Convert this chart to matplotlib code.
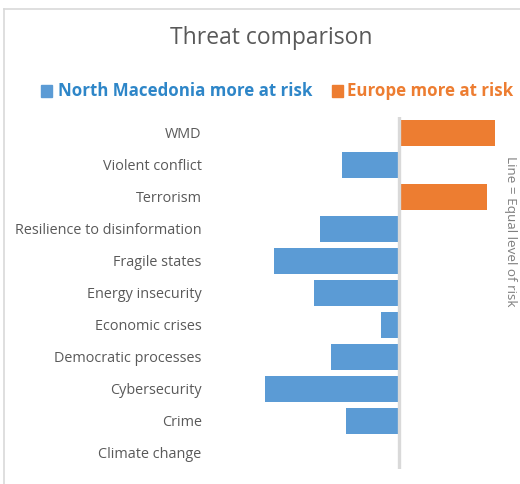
import matplotlib
matplotlib.use("Agg")
import matplotlib.pyplot as plt
from matplotlib.patches import Rectangle
from matplotlib.lines import Line2D

categories = ["WMD", "Violent conflict", "Terrorism", "Resilience to disinformation",
              "Fragile states", "Energy insecurity", "Economic crises",
              "Democratic processes", "Cybersecurity", "Crime", "Climate change"]
values = [0.96, -0.57, 0.88, -0.79, -1.25, -0.85, -0.18, -0.68, -1.34, -0.53, 0.01]

BLUE = "#5B9BD5"
ORANGE = "#ED7D31"
W, H = 520, 484

plt.rcParams['font.family'] = ['Open Sans', 'DejaVu Sans']
fig = plt.figure(figsize=(W/100, H/100), dpi=100)

# frame
fig.add_artist(Line2D([4/W, 4/W], [0, 1-9/H], color="#d9d9d9", lw=1.2, transform=fig.transFigure))
fig.add_artist(Line2D([4/W, 1], [1-9/H, 1-9/H], color="#d9d9d9", lw=1.2, transform=fig.transFigure))

ax_l, ax_r, ax_t, ax_b = 208, 500, 117, 469
ax = fig.add_axes([ax_l/W, 1-ax_b/H, (ax_r-ax_l)/W, (ax_b-ax_t)/H])
ax.set_xlim((ax_l-399)/100, (ax_r-399)/100)
ax.set_ylim(len(categories)-0.5, -0.5)

ys = list(range(len(categories)))
colors = [ORANGE if v > 0 else BLUE for v in values]
ax.barh(ys, values, height=0.8, color=colors, zorder=2)
ax.axvline(0, color="#d9d9d9", lw=2.4, zorder=3)

ax.set_yticks(ys)
ax.set_yticklabels(categories, fontsize=10.4, color="#595959")
ax.tick_params(axis='y', length=0, pad=4.5)
ax.set_xticks([])
for s in ax.spines.values():
    s.set_visible(False)

fig.text(271/W, 1-38/H, "Threat comparison", ha="center", va="center", fontsize=16.5, color="#595959")

# legend
fig.add_artist(Rectangle((41/W, 1-97/H), 11/W, 12/H, color=BLUE, transform=fig.transFigure))
fig.text(58/W, 1-91/H, "North Macedonia more at risk", ha="left", va="center",
         fontsize=12.2, fontweight="bold", color="#2E86C8")
fig.add_artist(Rectangle((332/W, 1-97/H), 11/W, 12/H, color=ORANGE, transform=fig.transFigure))
fig.text(347/W, 1-91/H, "Europe more at risk", ha="left", va="center",
         fontsize=12.2, fontweight="bold", color=ORANGE)

fig.text(511/W, 1-231/H, "Line = Equal level of risk", rotation=-90, ha="center", va="center",
         fontsize=9.7, color="#7f7f7f")

fig.savefig("out.png", dpi=100, facecolor="white")
